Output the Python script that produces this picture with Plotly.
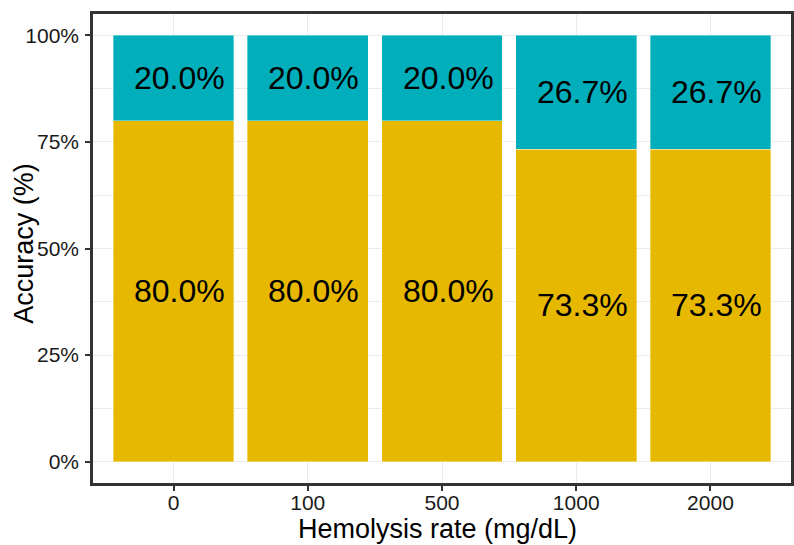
import plotly.graph_objects as go

categories = ["0", "100", "500", "1000", "2000"]
correct = [80.0, 80.0, 80.0, 73.3, 73.3]
incorrect = [20.0, 20.0, 20.0, 26.7, 26.7]
y_ticks = [0, 25, 50, 75, 100]
y_tick_labels = ["0%", "25%", "50%", "75%", "100%"]

GOLD = "#E7B800"
TEAL = "#00AFBB"
FONT = "Liberation Sans, Arial, sans-serif"

fig = go.Figure()
fig.add_trace(go.Bar(x=categories, y=correct, marker=dict(color=GOLD, line=dict(color="rgba(255,255,255,0.6)", width=0.6)),
                     width=0.9, name="correct", showlegend=False))
fig.add_trace(go.Bar(x=categories, y=incorrect, marker=dict(color=TEAL, line=dict(color="rgba(255,255,255,0.6)", width=0.6)),
                     width=0.9, name="incorrect", showlegend=False))

annotations = []
for i, (a, b) in enumerate(zip(correct, incorrect)):
    annotations.append(dict(x=i, y=a / 2, text=f"{a:.1f}%", showarrow=False, xshift=6,
                            font=dict(family=FONT, size=32, color="black")))
    annotations.append(dict(x=i, y=a + b / 2, text=f"{b:.1f}%", showarrow=False, xshift=6,
                            font=dict(family=FONT, size=32, color="black")))

# axis titles
annotations.append(dict(xref="paper", yref="paper", x=0.494, y=-0.098, text="Hemolysis rate (mg/dL)",
                        showarrow=False, xanchor="center", yanchor="middle",
                        font=dict(family=FONT, size=27, color="black")))
annotations.append(dict(xref="paper", yref="paper", x=-0.099, y=0.512, text="Accuracy (%)",
                        showarrow=False, xanchor="center", yanchor="middle", textangle=-90,
                        font=dict(family=FONT, size=27, color="black")))

fig.update_layout(
    barmode="stack",
    bargap=0.1,
    width=794, height=545,
    margin=dict(l=93, r=3, t=14, b=62),
    paper_bgcolor="white",
    plot_bgcolor="white",
    font=dict(family=FONT, color="black"),
    annotations=annotations,
)
fig.update_xaxes(
    type="category",
    range=[-0.6, 4.6],
    automargin=False,
    showgrid=True, gridcolor="#EBEBEB", gridwidth=1.3,
    showline=True, linecolor="#333333", linewidth=2.5, mirror=True,
    ticks="outside", ticklen=5, tickwidth=1.5, tickcolor="#333333",
    tickfont=dict(family=FONT, size=21, color="#1a1a1a"),
    ticklabelstandoff=-6,
    zeroline=False,
)
fig.update_yaxes(
    range=[-5, 105],
    automargin=False,
    tickvals=y_ticks, ticktext=y_tick_labels,
    showgrid=True, gridcolor="#EBEBEB", gridwidth=1.3,
    minor=dict(tickvals=[12.5, 37.5, 62.5, 87.5], showgrid=True, gridcolor="#EBEBEB", gridwidth=0.7, ticklen=0),
    showline=True, linecolor="#333333", linewidth=2.5, mirror=True,
    ticks="outside", ticklen=5, tickwidth=1.5, tickcolor="#333333",
    tickfont=dict(family=FONT, size=21, color="#1a1a1a"),
    ticklabelstandoff=2,
    zeroline=False,
)

fig.write_html("out.html", config={"displayModeBar": False},
               post_script="document.body.style.margin='0';")
